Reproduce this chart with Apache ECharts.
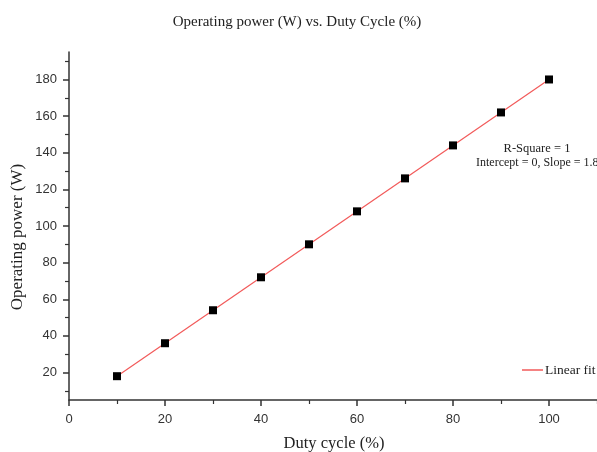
<!DOCTYPE html>
<html><head><meta charset="utf-8">
<script src="https://cdn.jsdelivr.net/npm/echarts@6/dist/echarts.min.js"></script>
<style>html,body{margin:0;padding:0;background:#fff}#c{width:597px;height:452px}</style>
</head><body><div id="c"></div>
<script>
var dutyCycle = [10, 20, 30, 40, 50, 60, 70, 80, 90, 100];
var power = [18, 36, 54, 72, 90, 108, 126, 144, 162, 180];
var fitSlope = 1.8;
var fitIntercept = 0;
var xMajorTicks = [0, 20, 40, 60, 80, 100];
var xMinorTicks = [10, 30, 50, 70, 90, 110];
var yMajorTicks = [20, 40, 60, 80, 100, 120, 140, 160, 180];
var yMinorTicks = [10, 30, 50, 70, 90, 110, 130, 150, 170, 190];

var pts = dutyCycle.map(function (x, i) { return [x, power[i]]; });
var x0 = dutyCycle[0], x1 = dutyCycle[dutyCycle.length - 1];
var fit = [[x0, fitSlope * x0 + fitIntercept], [x1, fitSlope * x1 + fitIntercept]];

var serif = '"Liberation Serif","Times New Roman",serif';
var sans = '"Liberation Sans",Arial,sans-serif';
var chart = echarts.init(document.getElementById('c'));
var axisCommon = {
  type: 'value', splitLine: {show: false}
};
chart.setOption({
  animation: false,
  title: {text: 'Operating power (W) vs. Duty Cycle (%)', left: 292, top: 10, textAlign: 'center',
    textStyle: {fontFamily: serif, fontWeight: 'normal', fontSize: 15, color: '#222'}},
  grid: {left: 69, top: 52, bottom: 52, right: 0, containLabel: false, outerBoundsMode: 'none'},
  xAxis: [
    Object.assign({}, axisCommon, {min: 0, max: 110,
      axisLine: {lineStyle: {color: '#333', width: 1.5}},
      axisTick: {show: true, inside: false, length: 6, customValues: xMajorTicks, lineStyle: {color: '#333', width: 1.5}},
      axisLabel: {customValues: xMajorTicks, fontFamily: sans, fontSize: 13, color: '#333', margin: 13}
    }),
    Object.assign({}, axisCommon, {min: 0, max: 110, position: 'bottom',
      axisLine: {show: false},
      axisTick: {show: true, length: 4, customValues: xMinorTicks, lineStyle: {color: '#333', width: 1.2}},
      axisLabel: {show: false}
    })
  ],
  yAxis: [
    Object.assign({}, axisCommon, {min: 5, max: 195,
      axisLine: {show: true, lineStyle: {color: '#333', width: 1.5}},
      axisTick: {show: true, length: 6, customValues: yMajorTicks, lineStyle: {color: '#333', width: 1.5}},
      axisLabel: {customValues: yMajorTicks, fontFamily: sans, fontSize: 13, color: '#333', margin: 12}
    }),
    Object.assign({}, axisCommon, {min: 5, max: 195, position: 'left',
      axisLine: {show: false},
      axisTick: {show: true, length: 4, customValues: yMinorTicks, lineStyle: {color: '#333', width: 1.2}},
      axisLabel: {show: false}
    })
  ],
  legend: {data: [{name: 'Linear fit', icon: 'rect'}], left: 517, top: 358, itemWidth: 21, itemHeight: 1.5, itemGap: 4,
    textStyle: {fontFamily: serif, fontSize: 13.5, color: '#222', padding: [0, 0, 0, -3]}},
  graphic: [
    {type: 'text', x: 18, y: 237, rotation: Math.PI / 2,
      style: {text: 'Operating power (W)', font: '17px ' + serif, fill: '#222', align: 'center', verticalAlign: 'middle'}},
    {type: 'text', x: 334, y: 444,
      style: {text: 'Duty cycle (%)', font: '16.5px ' + serif, fill: '#222', align: 'center', verticalAlign: 'middle'}},
    {type: 'text', x: 537, y: 149, style: {text: 'R-Square = 1', font: '12.5px ' + serif, fill: '#222', align: 'center', verticalAlign: 'middle'}},
    {type: 'text', x: 476, y: 163, style: {text: 'Intercept = 0, Slope = 1.8', font: '12px ' + serif, fill: '#222', align: 'left', verticalAlign: 'middle'}}
  ],
  series: [
    {name: 'Linear fit', type: 'line', data: fit, symbol: 'none', z: 2,
      lineStyle: {color: '#f25a5a', width: 1.2}, itemStyle: {color: '#f25a5a'}},
    {name: 'data', type: 'scatter', data: pts, symbol: 'rect', symbolSize: 8, z: 3,
      itemStyle: {color: '#000', opacity: 1}}
  ]
});
</script></body></html>
